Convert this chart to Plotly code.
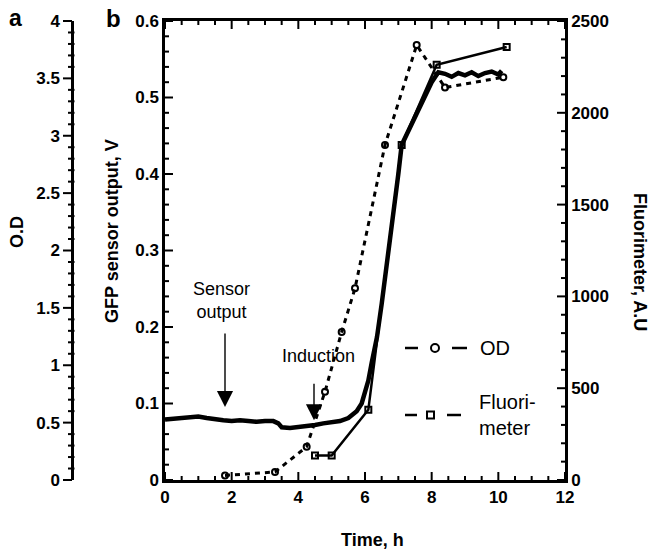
import numpy as np
import plotly.graph_objects as go

# ---------------- data ----------------
sensor_t = [0.0, 0.25, 0.5, 0.75, 1.0, 1.25, 1.5, 1.75, 2.0, 2.25, 2.5, 2.75, 3.0, 3.25,
            3.4, 3.5, 3.75, 4.0, 4.25, 4.5, 4.75, 5.0, 5.25, 5.5, 5.75, 5.9, 6.0, 6.1,
            6.2, 6.36, 6.5, 6.75, 7.0, 7.1, 7.25, 7.5, 7.75, 8.0, 8.2, 8.4, 8.6, 8.8,
            9.0, 9.2, 9.4, 9.6, 9.8, 10.0, 10.1]
sensor_v = [0.079, 0.080, 0.080, 0.082, 0.083, 0.081, 0.079, 0.078, 0.077, 0.078, 0.077,
            0.076, 0.077, 0.077, 0.074, 0.069, 0.068, 0.069, 0.070, 0.072, 0.074, 0.075,
            0.077, 0.081, 0.090, 0.100, 0.115, 0.130, 0.153, 0.187, 0.230, 0.310, 0.400,
            0.438, 0.452, 0.473, 0.497, 0.520, 0.533, 0.531, 0.527, 0.532, 0.529, 0.533,
            0.528, 0.532, 0.534, 0.530, 0.535]

od_t = [1.8, 3.3, 4.25, 4.8, 5.3, 5.7, 6.6, 7.55, 8.4, 10.15]
od_v = [0.04, 0.07, 0.29, 0.77, 1.29, 1.67, 2.92, 3.79, 3.42, 3.51]

fl_t = [4.5, 5.0, 6.1, 7.1, 8.15, 10.25]
fl_v = [133, 133, 382, 1825, 2262, 2358]

x_ticks = [0, 2, 4, 6, 8, 10, 12]

X_RANGE = [0, 12]
V_RANGE = [0, 0.6]
FL_RANGE = [0, 2500]
OD_RANGE = [0, 4]

# ---------------- layout geometry ----------------
W, H = 653, 550
L, R, T, B = 20, 88, 21, 70
PW = W - L - R
PH = H - T - B


def px(xp):
    return (xp - L) / PW


def py(yp):
    return (H - B - yp) / PH


X0 = px(165)                      # left edge of the x domain (paper)
XPIX = PW * (1 - X0)              # width of the x domain in pixels
FONT = "Liberation Sans, Arial, sans-serif"

fig = go.Figure()

fig.add_trace(go.Scatter(
    x=od_t, y=od_v, yaxis="y3", mode="lines+markers",
    line=dict(color="black", width=3, dash="5px,5px"),
    marker=dict(symbol="circle-open", size=6, color="black", line=dict(width=2)),
    showlegend=False))

fig.add_trace(go.Scatter(
    x=fl_t, y=fl_v, yaxis="y2", mode="lines+markers",
    line=dict(color="black", width=2.5),
    marker=dict(symbol="square-open", size=6, color="black", line=dict(width=2)),
    showlegend=False))

fig.add_trace(go.Scatter(
    x=sensor_t, y=sensor_v, yaxis="y", mode="lines",
    line=dict(color="black", width=4.5),
    showlegend=False))

# ---------- tick marks drawn as line traces (axis decoration) ----------
MAJ, MIN = 8, 4
dv_px = (V_RANGE[1] - V_RANGE[0]) / PH
dfl_px = (FL_RANGE[1] - FL_RANGE[0]) / PH
dt_px = (X_RANGE[1] - X_RANGE[0]) / XPIX

tx, ty = [], []
for i, t in enumerate(np.arange(0, 12.001, 0.5)):
    ln = MAJ if i % 4 == 0 else MIN
    tx += [t, t, None, t, t, None]
    ty += [0, ln * dv_px, None, V_RANGE[1], V_RANGE[1] - ln * dv_px, None]
for i, v in enumerate(np.arange(0, 0.6001, 0.02)):
    ln = MAJ if i % 5 == 0 else MIN
    tx += [0, ln * dt_px, None]
    ty += [v, v, None]
fig.add_trace(go.Scatter(x=tx, y=ty, yaxis="y", mode="lines", cliponaxis=False,
                         line=dict(color="black", width=2), hoverinfo="skip",
                         showlegend=False))

fx, fy = [], []
for i, v in enumerate(np.arange(0, 2500.1, 100)):
    ln = MAJ if i % 5 == 0 else MIN
    fx += [X_RANGE[1], X_RANGE[1] - ln * dt_px, None]
    fy += [v, v, None]
fig.add_trace(go.Scatter(x=fx, y=fy, yaxis="y2", mode="lines", cliponaxis=False,
                         line=dict(color="black", width=2), hoverinfo="skip",
                         showlegend=False))

tickfont = dict(family=FONT, size=17, color="black", weight="bold")
axis_common = dict(showline=True, linecolor="black", linewidth=2.5, showgrid=False,
                   zeroline=False, tickcolor="rgba(0,0,0,0)", tickfont=tickfont,
                   ticklen=8, tickwidth=2)

fig.update_layout(
    template="none",
    width=W, height=H, margin=dict(l=L, r=R, t=T, b=B),
    paper_bgcolor="white", plot_bgcolor="white", showlegend=False,
    xaxis=dict(domain=[X0, 1], range=X_RANGE, tickmode="array", tickvals=x_ticks,
               ticks="inside", mirror=True, **axis_common),
    yaxis=dict(range=V_RANGE, tickmode="linear", tick0=0, dtick=0.1, ticks="inside",
               anchor="x", **axis_common),
    yaxis2=dict(range=FL_RANGE, tickmode="linear", tick0=0, dtick=500, ticks="inside",
                overlaying="y", side="right", anchor="x", **axis_common),
    yaxis3=dict(range=OD_RANGE, tickmode="linear", tick0=0, dtick=0.5, ticks="outside",
                overlaying="y", side="left", anchor="free", position=px(72),
                **axis_common),
)

ann = []


def text(x, y, s, size=18, bold=False, angle=0, xanchor="center", align="center"):
    ann.append(dict(x=px(x), y=py(y), xref="paper", yref="paper", text=s, showarrow=False,
                    textangle=angle, xanchor=xanchor, yanchor="middle", align=align,
                    font=dict(family=FONT, size=size, color="black",
                              weight="bold" if bold else "normal")))


# panel letters
text(15, 18, "a", size=23, bold=True)
text(113, 18, "b", size=24, bold=True)
# axis titles
text(17, 232, "O.D", size=18, bold=True, angle=-90)
text(112, 231, "GFP sensor output, V", size=18, bold=True, angle=-90)
text(640, 262, "Fluorimeter, A.U", size=18, bold=True, angle=90)
text(372, 540, "Time, h", size=18, bold=True)
# annotations
text(221, 300, "Sensor<br>output", size=18)
text(318, 356, "Induction", size=18)
# legend labels
text(478, 348, "OD", size=20, xanchor="left", align="left")
text(477, 415, "Fluori-<br>meter", size=20, xanchor="left", align="left")

# arrows (tip in data coords)
ann.append(dict(x=1.8, y=0.0954, xref="x", yref="y", ax=0, ay=-75, text="",
                showarrow=True, arrowhead=2, arrowsize=2.3, arrowwidth=1.4, arrowcolor="black"))
ann.append(dict(x=4.47, y=0.078, xref="x", yref="y", ax=0, ay=-38, text="",
                showarrow=True, arrowhead=2, arrowsize=2.3, arrowwidth=1.4, arrowcolor="black"))

fig.update_layout(annotations=ann)

shapes = []
TICK = dict(color="black", width=2)

# O.D axis ticks (outside, pointing left; minor ticks cross the line)
x_od = px(72)
for i, v in enumerate(np.arange(0, 4.0001, 0.1)):
    f = v / OD_RANGE[1]
    if i % 5 == 0:
        x0, x1 = x_od, x_od - 9 / PW
    else:
        x0, x1 = x_od + 2.5 / PW, x_od - 4 / PW
    shapes.append(dict(type="line", xref="paper", yref="paper", x0=x0, x1=x1,
                       y0=f, y1=f, line=TICK))


# legend glyphs (paper coords)
def seg(x0, x1, y):
    shapes.append(dict(type="line", xref="paper", yref="paper", x0=px(x0), x1=px(x1),
                       y0=py(y), y1=py(y), line=dict(color="black", width=2.5)))


seg(405, 418, 348)
seg(452, 467, 348)
shapes.append(dict(type="circle", xref="paper", yref="paper", x0=px(431), x1=px(439),
                   y0=py(352), y1=py(344), line=dict(color="black", width=2)))
seg(405, 417, 415)
seg(447, 461, 415)
shapes.append(dict(type="rect", xref="paper", yref="paper", x0=px(427), x1=px(434),
                   y0=py(418.5), y1=py(411.5), line=dict(color="black", width=2)))
fig.update_layout(shapes=shapes)

fig.write_html("out.html")
